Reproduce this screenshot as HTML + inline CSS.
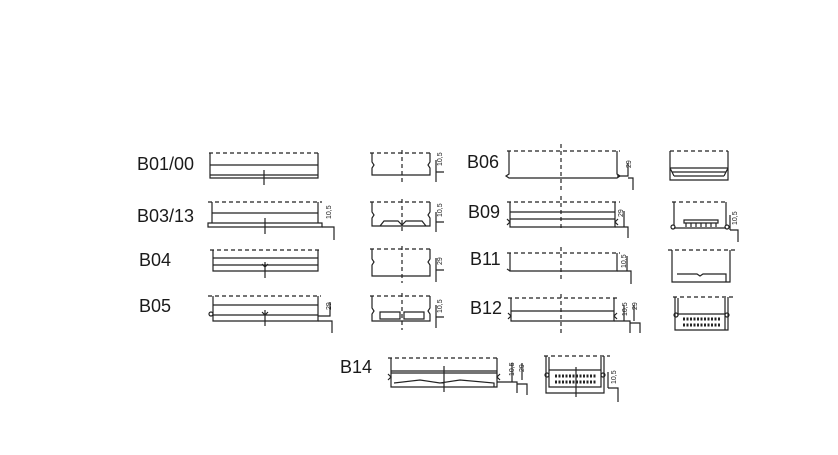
<!DOCTYPE html>
<html><head><meta charset="utf-8"><style>
html,body{margin:0;padding:0;background:#fff;width:838px;height:455px;overflow:hidden}
svg{display:block}
.l{font-family:"Liberation Sans",sans-serif;font-size:18px;fill:#1a1a1a}
.d{font-family:"Liberation Sans",sans-serif;font-size:7px;fill:#222}
</style></head><body>
<svg width="838" height="455" viewBox="0 0 838 455" fill="none" stroke="#222" stroke-width="1.2">
<g>
<text class="l" x="137" y="170" stroke="none">B01/00</text>
<text class="l" x="137" y="222" stroke="none">B03/13</text>
<text class="l" x="139" y="266" stroke="none">B04</text>
<text class="l" x="139" y="312" stroke="none">B05</text>
<text class="l" x="467" y="168" stroke="none">B06</text>
<text class="l" x="468" y="218" stroke="none">B09</text>
<text class="l" x="470" y="265" stroke="none">B11</text>
<text class="l" x="470" y="314" stroke="none">B12</text>
<text class="l" x="340" y="373" stroke="none">B14</text>
</g>
<g stroke-dasharray="4,3">
<line x1="209" y1="153" x2="320" y2="153"/><line x1="370" y1="153" x2="432" y2="153"/>
<line x1="208" y1="202" x2="322" y2="202"/><line x1="370" y1="202" x2="432" y2="202"/>
<line x1="210" y1="250" x2="320" y2="250"/><line x1="370" y1="249" x2="432" y2="249"/>
<line x1="208" y1="296" x2="321" y2="296"/><line x1="370" y1="296" x2="432" y2="296"/>
<line x1="507" y1="151" x2="620" y2="151"/><line x1="670" y1="151" x2="728" y2="151"/>
<line x1="507" y1="202" x2="620" y2="202"/><line x1="672" y1="202" x2="728" y2="202"/>
<line x1="507" y1="253" x2="620" y2="253"/><line x1="668" y1="250" x2="735" y2="250"/>
<line x1="508" y1="298" x2="618" y2="298"/><line x1="673" y1="297" x2="735" y2="297"/>
<line x1="388" y1="358" x2="500" y2="358"/><line x1="544" y1="356" x2="610" y2="356"/>
<line x1="402" y1="150" x2="402" y2="182"/><line x1="402" y1="199" x2="402" y2="234"/>
<line x1="402" y1="246" x2="402" y2="283"/><line x1="402" y1="293" x2="402" y2="330"/>
<line x1="561" y1="144" x2="561" y2="190"/><line x1="561" y1="196" x2="561" y2="230"/>
<line x1="561" y1="247" x2="561" y2="282"/><line x1="561" y1="294" x2="561" y2="333"/>
</g>
<path d="M210 153V178H318V153M210 165H318M210 175H318M264 170V185"/>
<path d="M372 153V162l2 3-2 3V175H430V168l-2-3 2-3V153"/>
<path d="M436 160V172H444M436 172V182"/><text class="d" stroke="none" transform="translate(442 166) rotate(-90)">10,5</text>
<path d="M212 202V223M318 202V223M212 213H318M208 223H322V227H208ZM265 218V234"/>
<path d="M322 227H334V240"/><text class="d" stroke="none" transform="translate(331 219) rotate(-90)">10,5</text>
<path d="M372 202V212l2 3-2 3V226H430V218l-2-3 2-3V202M380 226l4-5H398l4 4 4-4H422l4 5"/>
<path d="M436 212V222H444M436 222V232"/><text class="d" stroke="none" transform="translate(442 217) rotate(-90)">10,5</text>
<path d="M213 250V271H318V250M213 258H318M213 265H318M265 262V278M262 264L265 267 268 264"/>
<path d="M372 249V259l2 3-2 3V276H430V265l-2-3 2-3V249"/>
<path d="M436 258V270H444M436 270V282"/><text class="d" stroke="none" transform="translate(442 265) rotate(-90)">29</text>
<path d="M213 296V321H318V296M213 305H318M213 315H318M265 310V326M262 312L265 315 268 312"/>
<circle cx="211" cy="314" r="2"/>
<path d="M318 316H330V302M318 321H332V333"/><text class="d" stroke="none" transform="translate(331 310) rotate(-90)">29</text>
<path d="M372 296V308l2 3-2 3V321H430V314l-2-3 2-3V296M380 312H400V319H380ZM404 312H424V319H404Z"/>
<path d="M436 305V317H444M436 317V328"/><text class="d" stroke="none" transform="translate(442 313) rotate(-90)">10,5</text>
<path d="M509 151V174l-3 2 3 2H617l3-2-3-2V151M509 178H617"/>
<path d="M617 176H628V163M628 178H633V190"/><text class="d" stroke="none" transform="translate(631 168) rotate(-90)">29</text>
<path d="M670 151V180H728V151M670 168H728M672 172H726M674 176H724M670 168l4 8M728 168l-4 8"/>
<path d="M510 202V227H615V202M510 212H615M510 219H615M507 219l3 3-3 3M618 219l-3 3 3 3"/>
<path d="M615 227H624V211M624 227H628V238"/><text class="d" stroke="none" transform="translate(623 217) rotate(-90)">29</text>
<path d="M674 202V225M726 202V225M674 228H726M684 220H718V223H684Z"/>
<circle cx="673" cy="227" r="2"/><circle cx="727" cy="227" r="2"/>
<path d="M686 223v4M691 223v4M696 223v4M701 223v4M706 223v4M711 223v4M716 223v4"/>
<path d="M730 230H738V242M730 215V230"/><text class="d" stroke="none" transform="translate(737 225) rotate(-90)">10,5</text>
<path d="M510 253V271H617V253M507 269l3 2"/>
<path d="M617 271H627V256M627 271H631V284"/><text class="d" stroke="none" transform="translate(626 268) rotate(-90)">10,5</text>
<path d="M672 250V282H730V250M677 274H697l3 2 3-2H726V282"/>
<path d="M511 298V321H614V298M511 311H614M508 313l3 3-3 3M617 313l-3 3 3 3"/>
<path d="M614 321H624V305M624 321H630V333M634 321V305M630 323H640V333"/><text class="d" stroke="none" transform="translate(627 316) rotate(-90)">10,5</text><text class="d" stroke="none" transform="translate(637 310) rotate(-90)">29</text>
<path d="M675 297V330H728V297M678 298V316M725 298V316M678 314H725V330"/>
<circle cx="676" cy="315" r="2"/><circle cx="727" cy="315" r="2"/>
<g stroke-width="3" stroke-dasharray="2,1.5"><path d="M683 319H721M683 325H721"/></g>
<path d="M391 358V387H497V358M391 371H497M391 373H497M394 383L420 380 440 383 460 380 494 383V387M444 366V392"/>
<path d="M388 374l3 3-3 3M500 374l-3 3 3 3"/>
<path d="M497 382H512V363M512 382H517V393M522 380V363M517 384H527V395"/><text class="d" stroke="none" transform="translate(514 376) rotate(-90)">10,5</text><text class="d" stroke="none" transform="translate(524 372) rotate(-90)">29</text>
<path d="M546 356V393H604V356M549 357V372M601 357V372M549 370H601V387H549Z"/>
<circle cx="547" cy="375" r="2"/><circle cx="603" cy="375" r="2"/>
<g stroke-width="3" stroke-dasharray="2,1.5"><path d="M555 376H596M555 382H596"/></g>
<path d="M576 367V397"/>
<path d="M608 388H618V402M608 372V388"/><text class="d" stroke="none" transform="translate(616 384) rotate(-90)">10,5</text>
</svg>
</body></html>
